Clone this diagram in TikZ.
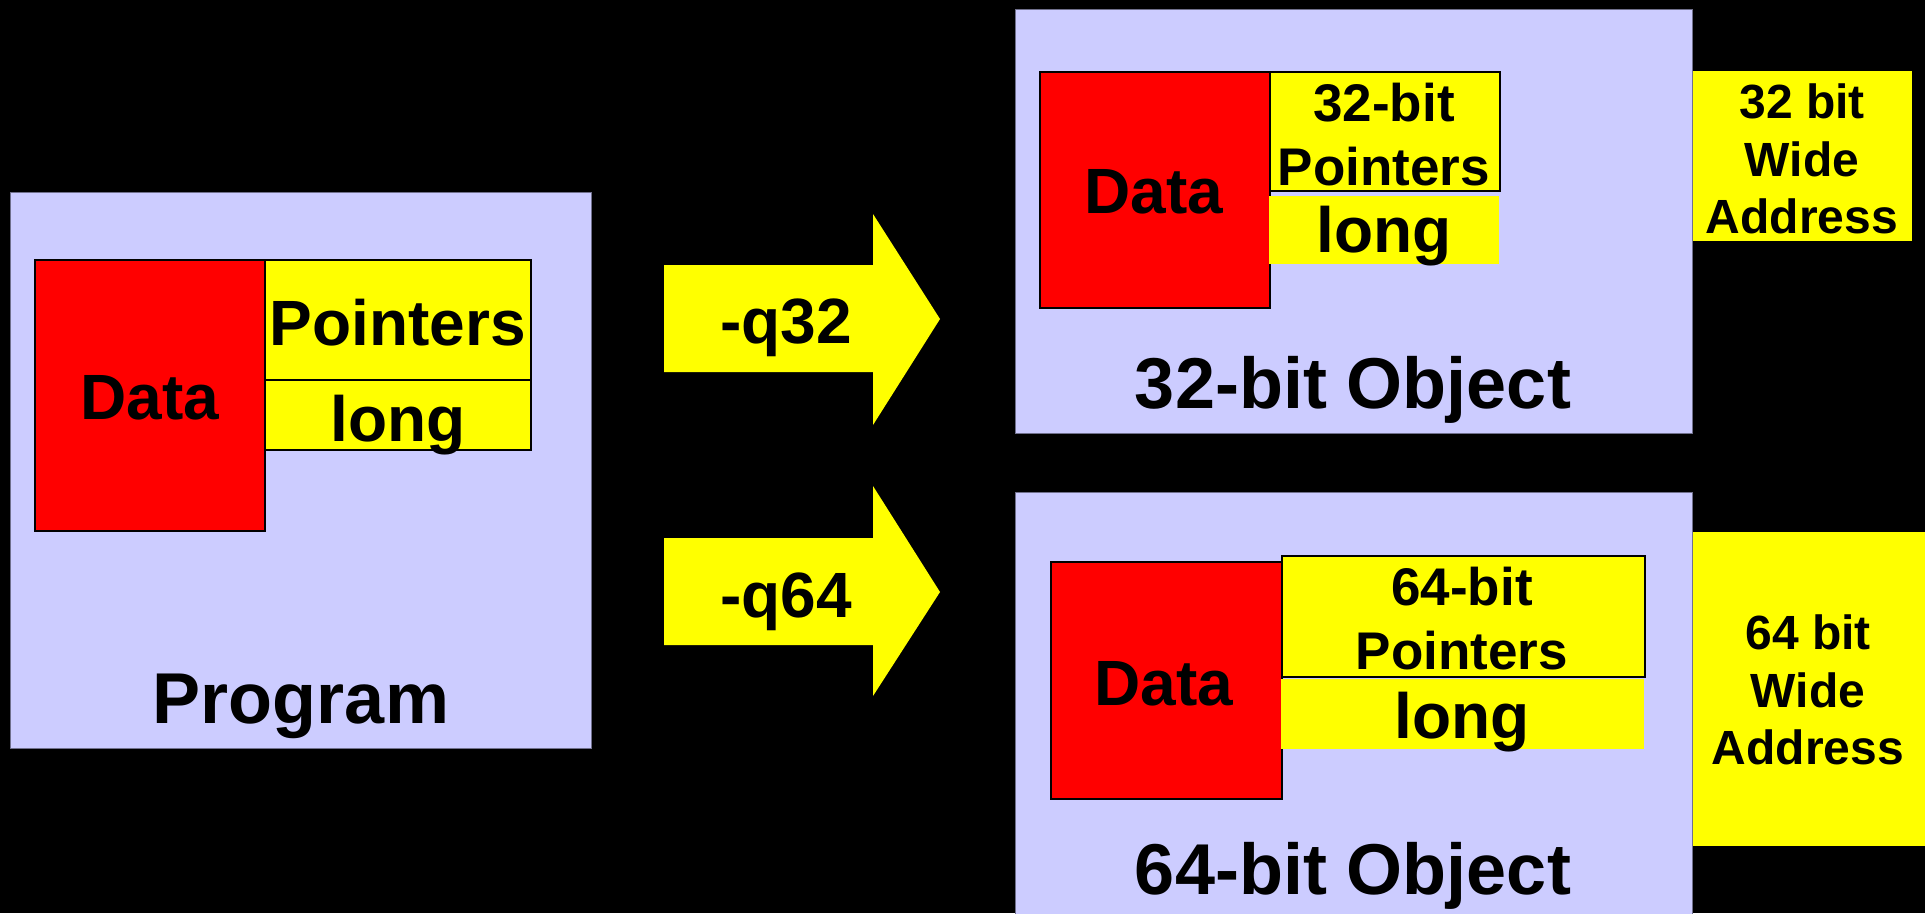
\documentclass[tikz,border=0pt]{standalone}
\usepackage{fontspec}
\setmainfont{Liberation Sans}
\definecolor{lav}{HTML}{CCCCFF}
\definecolor{yel}{HTML}{FFFF00}
\definecolor{datared}{HTML}{FF0000}
\begin{document}
\begin{tikzpicture}[x=1pt,y=-1pt,
  box/.style={rectangle, inner sep=0pt, anchor=north west},
  panel/.style={box, fill=lav, draw=lav!55!black, line width=1pt},
  databox/.style={box, fill=datared, draw=black, line width=1.5pt},
  ptrbox/.style={box, fill=yel, draw=black, line width=1.5pt},
  longbox/.style={box, fill=yel},
  addrbox/.style={box, fill=yel},
  lbl/.style={inner sep=0pt, align=center, font=\bfseries\fontsize{64}{77}\selectfont},
  smalllbl/.style={lbl, font=\bfseries\fontsize{53}{64}\selectfont},
  addrlbl/.style={lbl, font=\bfseries\fontsize{48}{57.6}\selectfont},
  title/.style={lbl, font=\bfseries\fontsize{72}{86}\selectfont},
  flag/.style={fill=yel}
]
\fill[black] (0,0) rectangle (1925,913);
\useasboundingbox (0,0) rectangle (1925,913);

% Program
\node[panel, minimum width=581pt, minimum height=556pt] (prog) at (10,192) {};
\node[databox, minimum width=230pt, minimum height=271pt] (pdata) at (34,259) {};
\node[ptrbox, minimum width=266pt, minimum height=120pt] (pptr) at (264,259) {};
\node[ptrbox, minimum width=266pt, minimum height=70pt] (plong) at (264,379) {};
\node[lbl] (pdatat) at (150,398) {Data};
\node[lbl] (pptrt) at (398,323) {Pointers};
\node[lbl] (plongt) at (398,425) {long};
\node[title] (progt) at (301,706) {Program};

% Arrows
\coordinate (a1) at (664,265);
\fill[flag] (a1) -- (873,265) -- (873,214) -- (940,319) -- (873,425) -- (873,372) -- (664,372) -- cycle;
\node[lbl] (q32) at (786,328) {-q32};
\coordinate (a2) at (664,538);
\fill[flag] (a2) -- (873,538) -- (873,486) -- (940,592) -- (873,696) -- (873,645) -- (664,645) -- cycle;
\node[lbl] (q64) at (786,602) {-q64};

% 32-bit object
\node[panel, minimum width=677pt, minimum height=424pt] (obj32) at (1015,9) {};
\node[databox, minimum width=230pt, minimum height=236pt] (d32) at (1039,71) {};
\node[ptrbox, minimum width=230pt, minimum height=119pt] (p32) at (1269,71) {};
\node[longbox, minimum width=230pt, minimum height=68pt] (l32) at (1269,196) {};
\node[addrbox, minimum width=219pt, minimum height=170pt] (a32) at (1693,71) {};
\node[lbl] (d32t) at (1154,192) {Data};
\node[smalllbl] (p32t) at (1384,135) {32-bit\\Pointers};
\node[lbl] (l32t) at (1384,236) {long};
\node[addrlbl] (a32t) at (1802,159) {32 bit\\Wide\\Address};
\node[title] (t32) at (1353,390) {32-bit Object};

% 64-bit object
\node[panel, minimum width=677pt, minimum height=440pt] (obj64) at (1015,492) {};
\node[databox, minimum width=231pt, minimum height=237pt] (d64) at (1050,561) {};
\node[ptrbox, minimum width=363pt, minimum height=121pt] (p64) at (1281,555) {};
\node[longbox, minimum width=363pt, minimum height=70pt] (l64) at (1281,679) {};
\node[addrbox, minimum width=232pt, minimum height=314pt] (a64) at (1693,532) {};
\node[lbl] (d64t) at (1164,684) {Data};
\node[smalllbl] (p64t) at (1462,619) {64-bit\\Pointers};
\node[lbl] (l64t) at (1462,722) {long};
\node[addrlbl] (a64t) at (1808,690) {64 bit\\Wide\\Address};
\node[title] (t64) at (1353,876) {64-bit Object};
\end{tikzpicture}
\end{document}
